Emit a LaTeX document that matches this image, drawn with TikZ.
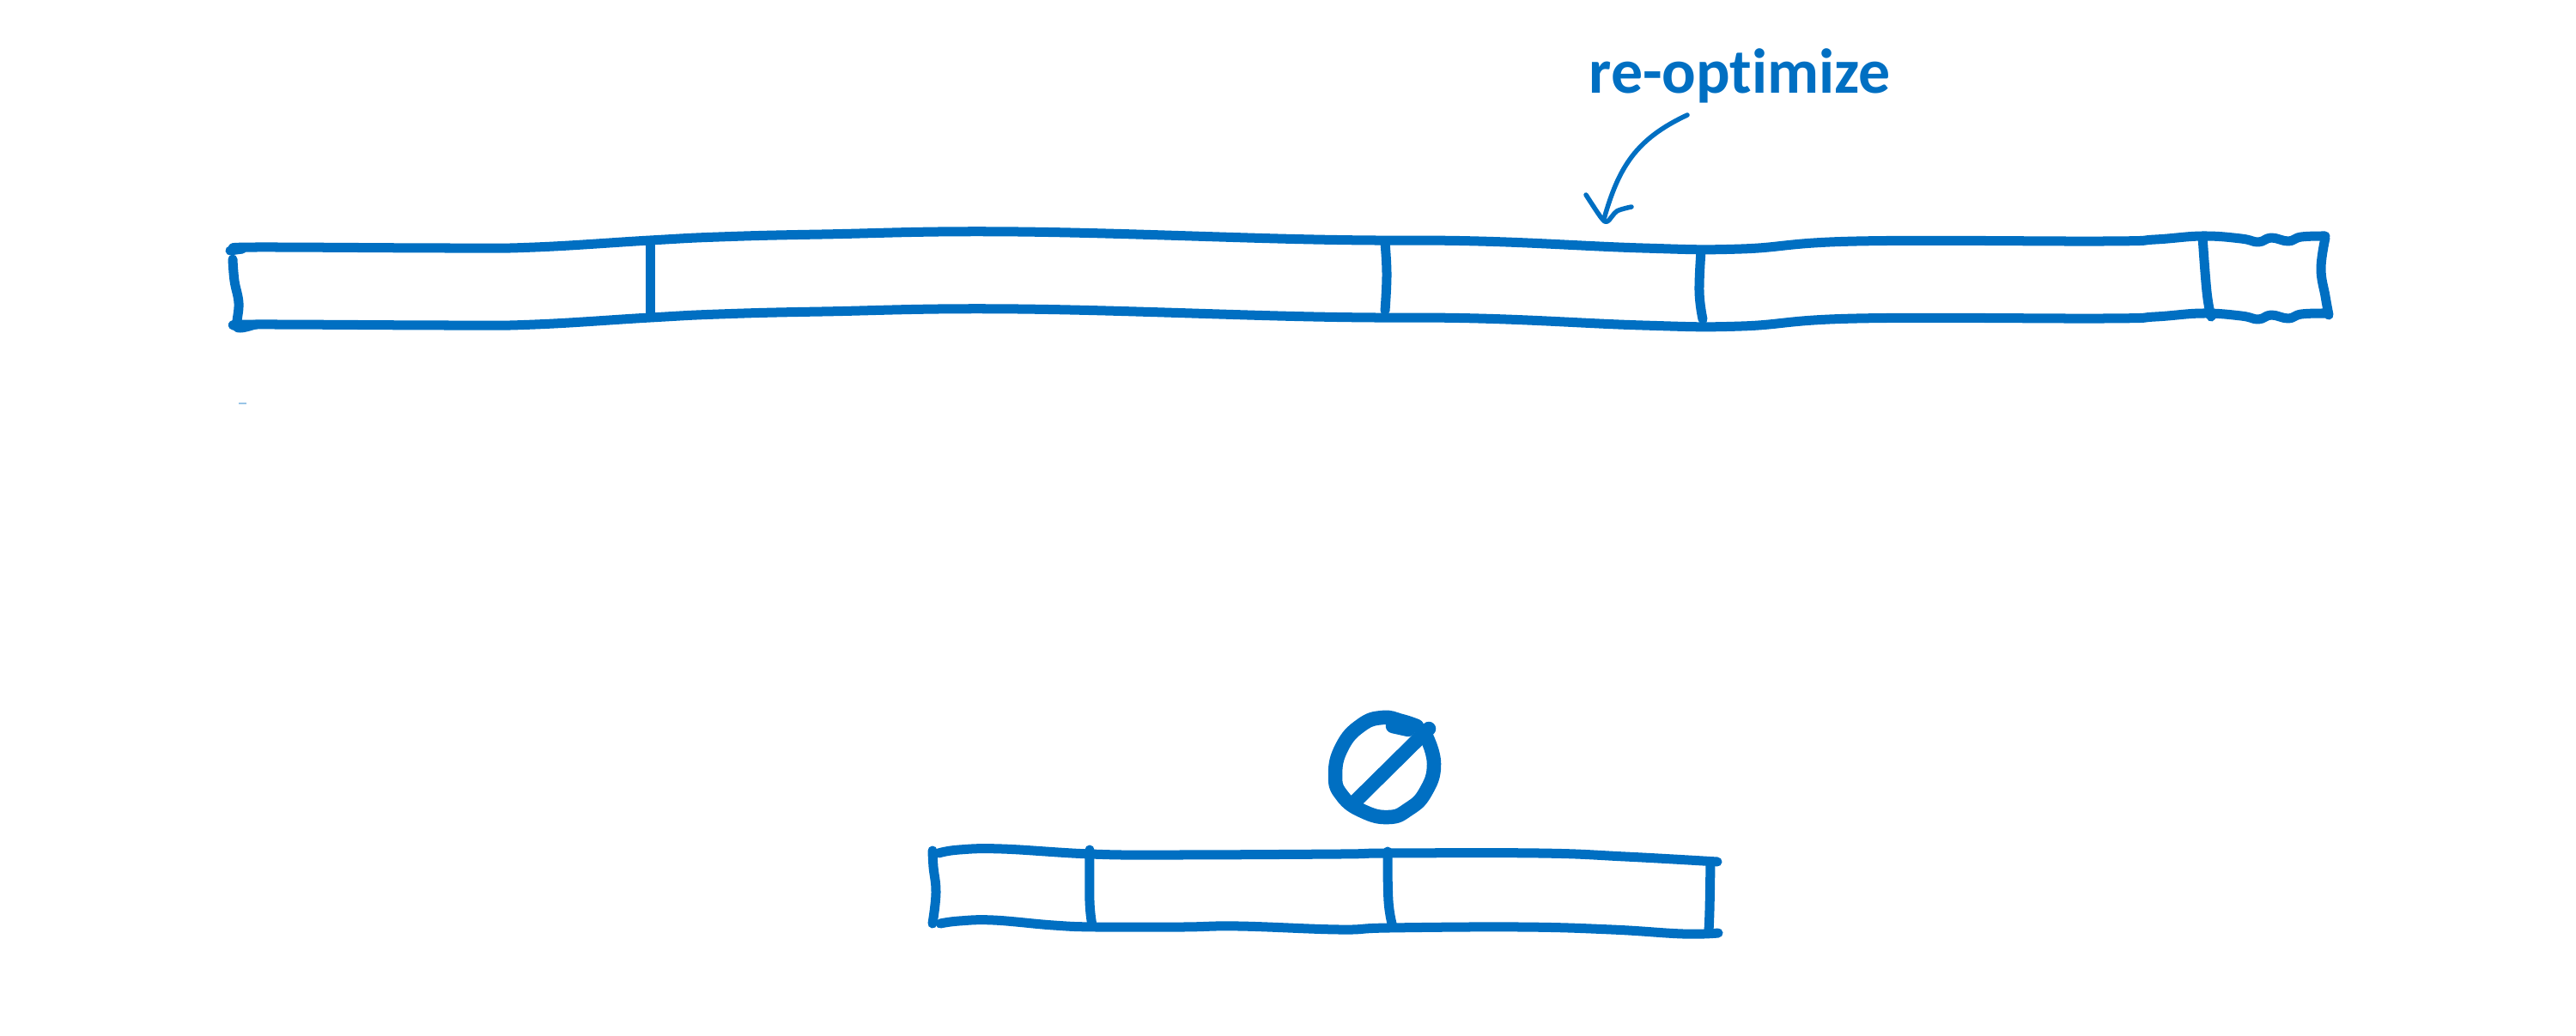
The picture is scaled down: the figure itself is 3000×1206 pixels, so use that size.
\documentclass[tikz,border=0pt]{standalone}
\usepackage{fontspec}
\setmainfont[Ligatures=NoCommon]{Carlito}
\definecolor{inkblue}{HTML}{006FC2}
\tikzset{
  sketch/.style={draw=inkblue,line width=.11cm,line cap=round,line join=round},
  thinsketch/.style={draw=inkblue,line width=.055cm,line cap=round,line join=round},
  fatsketch/.style={draw=inkblue,line width=.165cm,line cap=round,line join=round},
  notelabel/.style={text=inkblue,font=\fontsize{21}{21}\selectfont\bfseries,inner sep=0pt}
}
\begin{document}
\begin{tikzpicture}[x=.01cm,y=-.01cm]
\useasboundingbox (0,0) rectangle (3000,1206);
% upper bar, both long edges have the same wobble
\foreach \dy in {0,90}{
  \draw[sketch,shift={(0,\dy)}] plot[smooth,tension=.7] coordinates {(282,290) (297,288) (527,289) (623,288) (757,280) (837,276) (957,273) (1186,270) (1530,279) (1722,281) (1913,289) (2028,290) (2162,281) (2449,281) (2510,279) (2565,275) (2610,278) (2630,282) (2645,277) (2665,281) (2680,276) (2708,275)};
}
\draw[sketch] (268,292) -- (282,290);
\draw[sketch] plot[smooth,tension=.7] coordinates {(271,302) (273,327) (278,353) (276,377) (280,382) (297,378)};
\draw[sketch] plot[smooth,tension=.7] coordinates {(2708,277) (2703,313) (2708,345) (2712,367)};
\foreach \xa/\xb/\xc/\ya/\yb/\yc in {757/757/757/284/335/366, 1613/1615/1613/283/320/362, 1981/1979/1983/292/340/372, 2565/2570/2575/275/340/369}{
  \draw[sketch] plot[smooth,tension=.7] coordinates {(\xa,\ya) (\xb,\yb) (\xc,\yc)};
}
\draw[inkblue!40,line width=.015cm] (278,470) -- (287,470);
% label with its arrow
\node[notelabel,anchor=base west] (optlabel) at (1850,108) {re-optimize};
\coordinate (notestart) at (1965,134);
\coordinate (notetip) at (1868,255);
\draw[thinsketch] (notestart) .. controls (1905,162) and (1885,195) .. (notetip);
\draw[thinsketch] plot[smooth,tension=.5] coordinates {(1847,227) (1865,254) (1872,258) (1883,246) (1900,241)};
% empty set sign
\draw[fatsketch] plot[smooth,tension=.8] coordinates {(1650,846) (1632,840) (1610,836) (1585,845) (1563,870) (1555,903) (1563,927) (1587,945) (1617,952) (1640,943) (1660,923) (1670,890) (1660,856)};
\draw[fatsketch] (1622,846) -- (1640,850);
\draw[fatsketch] (1664,849) -- (1579,933);
% lower bar
\draw[sketch] plot[smooth,tension=.7] coordinates {(1093,994) (1117,990) (1167,989) (1270,995) (1360,996) (1560,995) (1617,994) (1793,994) (1893,998) (2000,1004)};
\draw[sketch] plot[smooth,tension=.7] coordinates {(1095,1076) (1117,1073) (1157,1072) (1227,1078) (1277,1080) (1377,1080) (1443,1079) (1560,1083) (1617,1081) (1770,1080) (1877,1083) (1960,1088) (2001,1087)};
\draw[sketch] plot[smooth,tension=.7] coordinates {(1086,991) (1087,1010) (1090,1040) (1086,1076)};
\draw[sketch] plot[smooth,tension=.7] coordinates {(1992,1005) (1991,1060) (1990,1084)};
\foreach \xa/\xb/\xc/\ya/\yb/\yc in {1269/1269/1272/990/1050/1078, 1616/1617/1622/992/1050/1080}{
  \draw[sketch] plot[smooth,tension=.7] coordinates {(\xa,\ya) (\xb,\yb) (\xc,\yc)};
}
\end{tikzpicture}
\end{document}
